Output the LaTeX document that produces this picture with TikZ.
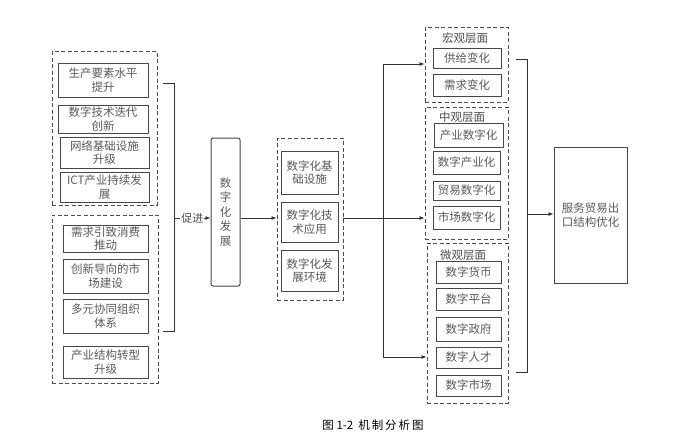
\documentclass[tikz,border=0pt]{standalone}
\usepackage{fontspec}
\setmainfont{Noto Sans CJK SC}
\usetikzlibrary{arrows.meta}

\begin{document}
\begin{tikzpicture}[x=1pt,y=-1pt,
    box/.style={draw=black!72, line width=1pt, inner sep=0pt, align=center, text=black!65, font=\fontsize{11.5}{13.5}\selectfont},
    grp/.style={draw=black!70, dash pattern=on 4pt off 2.5pt, line width=0.9pt, inner sep=0pt},
    ttl/.style={inner sep=0pt, text=black!70, font=\fontsize{11.5}{13.5}\selectfont},
    arr/.style={-{Latex[length=5pt,width=4pt]}, line width=0.8pt, draw=black!80},
    ln/.style={line width=0.8pt, draw=black!80}]
  % 32 nodes
  \useasboundingbox (0,0) rectangle (673,442);
  % left groups
  \node[grp, minimum width=105pt, minimum height=154pt] (g1) at (104.5,128) {};
  \node[box, minimum width=90pt, minimum height=34pt] (a1) at (103,80) {生产要素水平\\提升};
  \node[box, minimum width=90pt, minimum height=28pt] (a2) at (103,119) {数字技术迭代\\创新};
  \node[box, minimum width=89pt, minimum height=31pt] (a3) at (104.5,152.5) {网络基础设施\\升级};
  \node[box, minimum width=89pt, minimum height=30pt] (a4) at (104.5,187) {ICT产业持续发\\展};
  \node[grp, minimum width=106pt, minimum height=168pt] (g2) at (105,299) {};
  \node[box, minimum width=85pt, minimum height=27pt] (b1) at (105.5,238.5) {需求引致消费\\推动};
  \node[box, minimum width=85pt, minimum height=34pt] (b2) at (105.5,276) {创新导向的市\\场建设};
  \node[box, minimum width=85pt, minimum height=34pt] (b3) at (105.5,316) {多元协同组织\\体系};
  \node[box, minimum width=85pt, minimum height=32pt] (b4) at (105.5,362) {产业结构转型\\升级};
  % bracket and digital development
  \coordinate (lt) at (163,83);
  \coordinate (lb) at (163,331);
  \coordinate (lk) at (174,218);
  \draw[ln] (lt) -- ++(11,0) |- (lb);
  \node[box, rounded corners=2pt, minimum width=29pt, minimum height=148pt, font=\fontsize{11.5}{14.5}\selectfont] (dev) at (225.5,212) {数\\字\\化\\发\\展};
  \draw[arr] (lk) -- (lk -| dev.west) node[midway, fill=white, inner sep=1pt, text=black!70, font=\fontsize{11}{13}\selectfont] (cj) {促进};
  \node[grp, minimum width=66pt, minimum height=162pt] (g3) at (310,219) {};
  \node[box, minimum width=57pt, minimum height=43pt] (c1) at (309.5,172.5) {数字化基\\础设施};
  \node[box, minimum width=57pt, minimum height=40pt] (c2) at (309.5,222) {数字化技\\术应用};
  \node[box, minimum width=57pt, minimum height=41pt] (c3) at (309.5,270.5) {数字化发\\展环境};
  \draw[arr] (dev.east |- lk) -- (g3.west |- lk);
  % three levels
  \node[grp, minimum width=83pt, minimum height=75pt] (gM) at (466.5,64.5) {};
  \node[ttl] (tM) at (465,38) {宏观层面};
  \node[box, minimum width=68pt, minimum height=20pt] (m1) at (467,58) {供给变化};
  \node[box, minimum width=68pt, minimum height=22pt] (m2) at (467,85) {需求变化};
  \node[grp, minimum width=83pt, minimum height=132pt] (gZ) at (466.5,173) {};
  \node[ttl] (tZ) at (462,117) {中观层面};
  \node[box, minimum width=69pt, minimum height=24pt] (z1) at (468.5,135) {产业数字化};
  \node[box, minimum width=67pt, minimum height=23pt] (z2) at (466.5,162.5) {数字产业化};
  \node[box, minimum width=67pt, minimum height=19pt] (z3) at (466.5,190.5) {贸易数字化};
  \node[box, minimum width=67pt, minimum height=23pt] (z4) at (466.5,217.5) {市场数字化};
  \node[grp, minimum width=81pt, minimum height=160pt] (gW) at (467.5,323) {};
  \node[ttl] (tW) at (463,255) {微观层面};
  \node[box, minimum width=65pt, minimum height=22pt] (w1) at (468.5,272) {数字货币};
  \node[box, minimum width=65pt, minimum height=22pt] (w2) at (468.5,299) {数字平台};
  \node[box, minimum width=65pt, minimum height=24pt] (w3) at (468.5,329) {数字政府};
  \node[box, minimum width=65pt, minimum height=21pt] (w4) at (468.5,357.5) {数字人才};
  \node[box, minimum width=65pt, minimum height=21pt] (w5) at (468.5,385.5) {数字市场};
  \coordinate (hub) at (383,218);
  \coordinate (htop) at (383,64);
  \coordinate (hbot) at (383,357);
  \draw[ln] (g3.east |- hub) -- (hub);
  \draw[ln] (htop) -- (hbot);
  \draw[arr] (htop) -- (htop -| gM.west);
  \draw[arr] (hub) -- (hub -| gZ.west);
  \draw[arr] (hbot) -- (hbot -| gW.west);
  % output
  \node[box, minimum width=73pt, minimum height=136pt, font=\fontsize{11.5}{14}\selectfont] (out) at (590.5,215) {服务贸易出\\口结构优化};
  \coordinate (rt) at (516,59);
  \coordinate (rb) at (516,372);
  \coordinate (rk) at (527,214);
  \draw[ln] (rt) -- ++(11,0) |- (rb);
  \draw[arr] (rk) -- (rk -| out.west);
  \node[inner sep=0pt, font=\fontsize{11.5}{13}\selectfont] (cap) at (373,425) {图\ 1-2\ \ 机\,制\,分\,析\,图};
\end{tikzpicture}
\end{document}
